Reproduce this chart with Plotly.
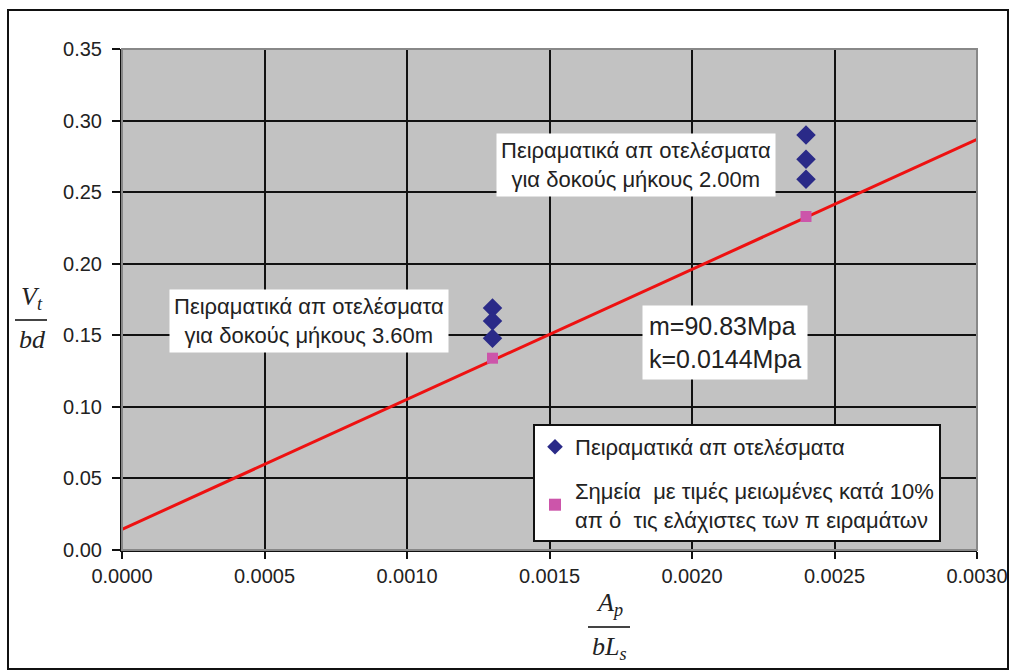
import plotly.graph_objects as go

# Data
x_exp = [0.0013, 0.0013, 0.0013, 0.0024, 0.0024, 0.0024]
y_exp = [0.169, 0.160, 0.148, 0.290, 0.273, 0.259]
x_red = [0.0013, 0.0024]
y_red = [0.134, 0.233]
m_val = 90.83
k_val = 0.0144
x_line = [0.0, 0.003]
y_line = [k_val + m_val * v for v in x_line]
x_ticks = [0.0, 0.0005, 0.0010, 0.0015, 0.0020, 0.0025, 0.0030]
y_ticks = [0.0, 0.05, 0.10, 0.15, 0.20, 0.25, 0.30, 0.35]

FONT = "Liberation Sans, Arial, sans-serif"
SERIF = "Liberation Serif, Times New Roman, serif"

L, R, T, B = 122, 36, 49, 120
W, H = 1013, 670
PW, PH = W - L - R, H - T - B


def px(xp):
    return (xp - L) / PW


def py(yp):
    return (H - B - yp) / PH


fig = go.Figure()
fig.add_trace(go.Scatter(x=x_line, y=y_line, mode="lines",
                         line=dict(color="#ee1111", width=3), showlegend=False,
                         hoverinfo="skip"))
fig.add_trace(go.Scatter(x=x_exp, y=y_exp, mode="markers",
                         name="Πειραματικά απ οτελέσματα", legendgroup="a",
                         marker=dict(symbol="diamond", size=15, color="#2a2a88")))
fig.add_trace(go.Scatter(x=x_red, y=y_red, mode="markers", legendgroup="b",
                         name="Σημεία  με τιμές μειωμένες κατά 10%<br>απ ό  τις ελάχιστες των π ειραμάτων",
                         marker=dict(symbol="square", size=11, color="#cc55aa")))

fig.update_layout(
    width=W, height=H, autosize=False,
    margin=dict(l=L, r=R, t=T, b=B),
    paper_bgcolor="white", plot_bgcolor="#c2c2c2",
    font=dict(family=FONT, size=20, color="#222222"),
    xaxis=dict(range=[0, 0.003], tickvals=x_ticks,
               ticktext=[f"{v:.4f}" for v in x_ticks],
               showgrid=True, gridcolor="#111111", gridwidth=2,
               showline=True, linecolor="#111111", linewidth=2,
               ticks="outside", ticklen=7, tickcolor="#111111", tickwidth=2,
               tickfont=dict(size=20), zeroline=False, automargin=False),
    yaxis=dict(range=[0, 0.35], tickvals=y_ticks,
               ticktext=[f"{v:.2f}" for v in y_ticks],
               showgrid=True, gridcolor="#111111", gridwidth=2,
               showline=True, linecolor="#111111", linewidth=2,
               ticks="outside", ticklen=8, tickcolor="#111111", tickwidth=2,
               tickfont=dict(size=20), zeroline=False, ticklabelstandoff=6,
               automargin=False),
    legend=dict(x=px(533), y=py(424), xanchor="left", yanchor="top",
                bgcolor="white", bordercolor="#111111", borderwidth=2,
                font=dict(size=22, family=FONT), traceorder="grouped",
                tracegroupgap=12, itemwidth=30, itemsizing="constant"),
    showlegend=True,
)

# Plot area grey frame
fig.add_shape(type="rect", xref="paper", yref="paper", x0=0, y0=0, x1=1, y1=1,
              line=dict(color="#888888", width=2), layer="above")
# Outer figure border
fig.add_shape(type="rect", xref="paper", yref="paper",
              x0=px(8), y0=py(669), x1=px(1008), y1=py(10),
              line=dict(color="#111111", width=2))

# Text boxes
fig.add_annotation(x=0.001804, y=0.2689, xref="x", yref="y",
                   text="Πειραματικά απ οτελέσματα<br>για δοκούς μήκους 2.00m",
                   showarrow=False, bgcolor="white", align="center",
                   xanchor="center", yanchor="middle",
                   font=dict(size=22), borderpad=4)
fig.add_annotation(x=0.000656, y=0.160, xref="x", yref="y",
                   text="Πειραματικά απ οτελέσματα<br>για δοκούς μήκους 3.60m",
                   showarrow=False, bgcolor="white", align="center",
                   xanchor="center", yanchor="middle",
                   font=dict(size=22), borderpad=4)
fig.add_annotation(x=0.002116, y=0.1453, xref="x", yref="y",
                   text="m=90.83Mpa<br>k=0.0144Mpa",
                   showarrow=False, bgcolor="white", align="left",
                   xanchor="center", yanchor="middle",
                   font=dict(size=25), borderpad=6)

# Axis title fractions
fig.add_annotation(xref="paper", yref="paper", x=px(32), y=py(316),
                   xanchor="center", yanchor="bottom",
                   text="<i>V<sub>t</sub></i>", showarrow=False,
                   font=dict(family=SERIF, size=26, color="#222222"))
fig.add_annotation(xref="paper", yref="paper", x=px(32), y=py(323),
                   xanchor="center", yanchor="top",
                   text="<i>bd</i>", showarrow=False,
                   font=dict(family=SERIF, size=26, color="#222222"))
fig.add_shape(type="line", xref="paper", yref="paper",
              x0=px(15), x1=px(47), y0=py(320), y1=py(320),
              line=dict(color="#444444", width=2))

fig.add_annotation(xref="paper", yref="paper", x=px(609), y=py(622),
                   xanchor="center", yanchor="bottom",
                   text="<i>A<sub>p</sub></i>", showarrow=False,
                   font=dict(family=SERIF, size=26, color="#222222"))
fig.add_annotation(xref="paper", yref="paper", x=px(609), y=py(630),
                   xanchor="center", yanchor="top",
                   text="<i>bL<sub>s</sub></i>", showarrow=False,
                   font=dict(family=SERIF, size=26, color="#222222"))
fig.add_shape(type="line", xref="paper", yref="paper",
              x0=px(588), x1=px(630), y0=py(627), y1=py(627),
              line=dict(color="#444444", width=2))

fig.write_html("out.html",
               config={"responsive": False, "displayModeBar": False},
               post_script="document.body.style.margin='0';document.body.style.overflow='hidden';")
